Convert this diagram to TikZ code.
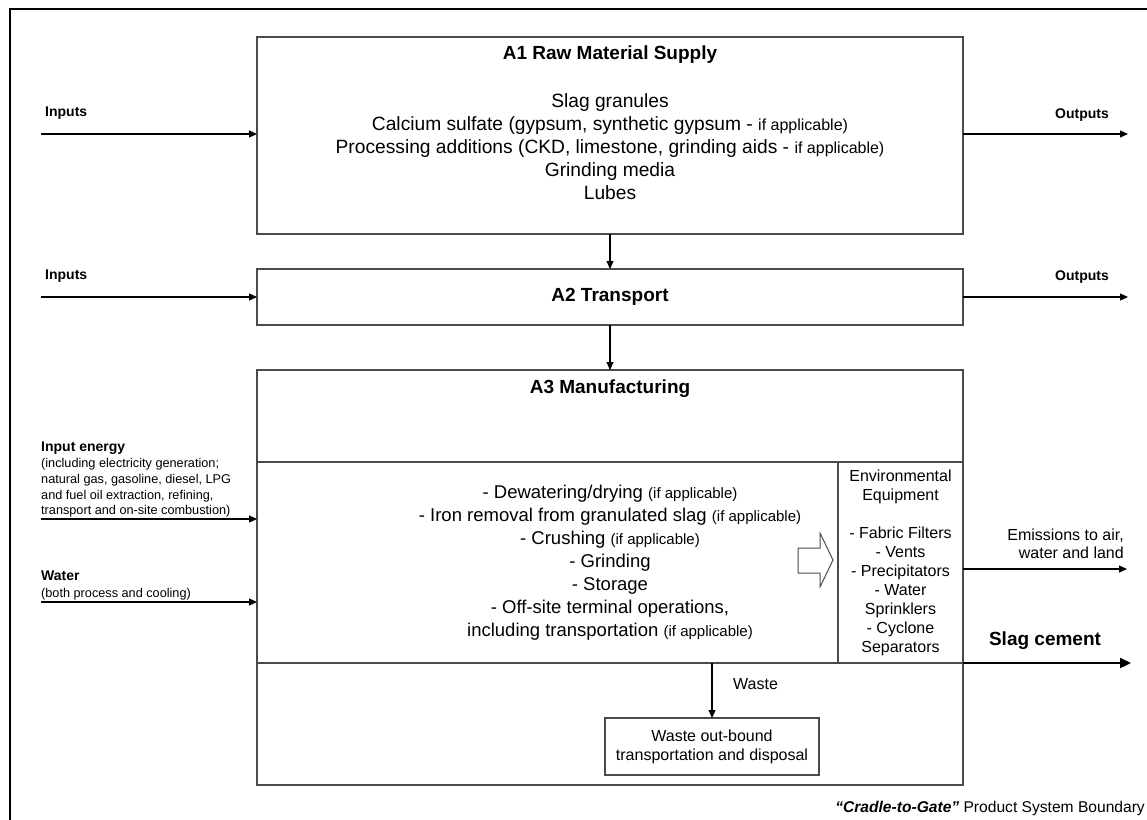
\documentclass[tikz,border=0pt]{standalone}
\usepackage{fontspec}
\setmainfont{Liberation Sans}
\usetikzlibrary{arrows.meta}
\definecolor{boxgray}{RGB}{75,75,75}
\newcommand\smtxt[1]{{\fontsize{15}{17}\selectfont #1}}
\newcommand\smtxtb[1]{{\fontsize{16}{18}\selectfont #1}}
\begin{document}
\begin{tikzpicture}[x=1pt,y=-1pt,
  box/.style={draw=boxgray, line width=1.2pt, inner sep=0pt, outer sep=0pt, anchor=north west},
  conn/.style={draw=black, line width=1.1pt, -{Triangle[length=8pt,width=7pt]}},
  thickconn/.style={draw=black, line width=2.2pt, -{Triangle[length=11pt,width=10pt]}},
  ttl/.style={font=\fontsize{19}{22}\selectfont\bfseries, inner sep=0pt},
  body/.style={font=\fontsize{18.5}{23}\selectfont, align=center, inner sep=0pt},
  bodyb/.style={font=\fontsize{19.2}{23}\selectfont, align=center, inner sep=0pt},
  lbl/.style={font=\fontsize{14}{16}\selectfont\bfseries, inner sep=0pt, anchor=west},
  sub/.style={font=\fontsize{12.7}{15.7}\selectfont, inner sep=0pt, anchor=west, align=left},
  mid/.style={font=\fontsize{16}{19}\selectfont, inner sep=0pt, align=center}]
\useasboundingbox (0,0) rectangle (1147,819);
\clip (0,0) rectangle (1147,819);
% outer boundary
\draw[line width=2pt, black] (10,9) rectangle (1165,835);
% boxes
\node[box, minimum width=706pt, minimum height=197pt] (a1) at (257,37) {};
\node[box, minimum width=706pt, minimum height=56pt] (a2) at (257,269) {};
\node[box, minimum width=706pt, minimum height=415pt] (a3) at (257,370) {};
\node[box, minimum width=581pt, minimum height=201pt] (proc) at (257,462) {};
\node[box, minimum width=125pt, minimum height=201pt] (env) at (838,462) {};
\node[box, minimum width=214pt, minimum height=57pt] (wbox) at (605,718) {};
% titles
\node[ttl] (t1) at (610,55) {A1 Raw Material Supply};
\node[ttl] (t2) at (610,297) {A2 Transport};
\node[ttl] (t3) at (610,389) {A3 Manufacturing};
% A1 body
\node[bodyb] (a1body) at (610,147) {Slag granules\\
Calcium sulfate (gypsum, synthetic gypsum - \smtxtb{if applicable)}\\
Processing additions (CKD, limestone, grinding aids - \smtxtb{if applicable)}\\
Grinding media\\
Lubes};
% process body
\node[body] (pbody) at (610,563) {- Dewatering/drying \smtxt{(if applicable)}\\
- Iron removal from granulated slag \smtxt{(if applicable)}\\
- Crushing \smtxt{(if applicable)}\\
- Grinding\\
- Storage\\
- Off-site terminal operations,\\
including transportation \smtxt{(if applicable)}};
% environmental equipment
\node[mid] (envtxt) at (900.5,562.5) {Environmental\\Equipment\\[19pt]- Fabric Filters\\- Vents\\- Precipitators\\- Water\\Sprinklers\\- Cyclone\\Separators};
% hollow arrow
\draw[boxgray, line width=1pt, fill=white] (798,548) -- (820,548) -- (820,533) -- (833,560) -- (820,587) -- (820,573) -- (798,573) -- cycle;
% flow arrows between stages
\draw[conn] (a1.south) -- (a2.north);
\draw[conn] (a2.south) -- (a3.north);
% inputs
\coordinate (in1) at (41,134);
\coordinate (in2) at (41,297);
\coordinate (in3) at (41,519);
\coordinate (in4) at (41,602);
\node[lbl] (l1) at (45,113) {Inputs};
\node[lbl] (l2) at (45,276) {Inputs};
\draw[conn] (in1) -- (in1 -| a1.west);
\draw[conn] (in2) -- (in2 -| a2.west);
\node[lbl] (l3) at (41,448) {Input energy};
\node[sub] (s3) at (41,488) {(including electricity generation;\\natural gas, gasoline, diesel, LPG\\and fuel oil extraction, refining,\\transport and on-site combustion)};
\draw[conn] (in3) -- (in3 -| a3.west);
\node[lbl] (l4) at (41,576) {Water};
\node[sub] (s4) at (41,594) {(both process and cooling)};
\draw[conn] (in4) -- (in4 -| a3.west);
% outputs
\coordinate (out1) at (1128,134);
\coordinate (out2) at (1128,297);
\node[lbl, anchor=east] (o1) at (1109,115) {Outputs};
\node[lbl, anchor=east] (o2) at (1109,277) {Outputs};
\draw[conn] (out1 -| a1.east) -- (out1);
\draw[conn] (out2 -| a2.east) -- (out2);
% emissions
\coordinate (emi) at (1127,569);
\node[mid, anchor=east, align=right, font=\fontsize{16}{18}\selectfont] (emitxt) at (1124,544) {Emissions to air,\\water and land};
\draw[conn] (emi -| env.east) -- (emi);
% slag cement
\coordinate (slag) at (1131,663);
\node[ttl] (slagtxt) at (1045,641) {Slag cement};
\draw[thickconn] (env.south east) -- (slag);
% waste
\draw[conn] (proc.south -| wbox.north) -- (wbox.north);
\node[mid, anchor=west] (wastelbl) at (733,684) {Waste};
\node[mid] (wtxt) at (712,746.5) {Waste out-bound\\transportation and disposal};
% footer
\node[inner sep=0pt, anchor=east, font=\fontsize{15.6}{18}\selectfont] (foot) at (1145,808) {{\bfseries\itshape “Cradle-to-Gate”} Product System Boundary};
\end{tikzpicture}
\end{document}
